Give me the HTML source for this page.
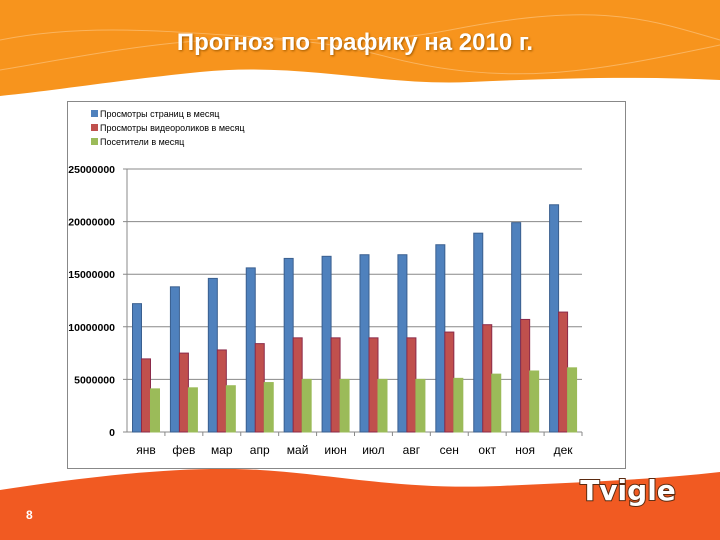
<!DOCTYPE html>
<html><head><meta charset="utf-8">
<style>
body{margin:0;width:720px;height:540px;overflow:hidden;background:#fff;font-family:"Liberation Sans",sans-serif;}
svg{display:block}
</style></head>
<body>
<svg width="720" height="540">
  <path d="M0 0 H720 V80 C640 76 560 78 470 82 C380 86 300 62 200 72 C120 80 60 90 0 96 Z" fill="#f7941d"/>
  <path d="M0 40 C150 10 300 60 450 30 S650 20 720 40 M0 70 C120 50 250 20 380 55 S600 70 720 45" stroke="#fbc27a" stroke-width="1" fill="none" opacity="0.7"/>
  <text x="355" y="50" text-anchor="middle" font-size="24" font-weight="bold" fill="#fff" style="text-shadow:1px 1px 2px #a05a00">Прогноз по трафику на 2010 г.</text>
  <path d="M0 490 C80 478 180 465 260 470 C340 475 400 490 500 486 C580 482 650 480 720 472 V540 H0 Z" fill="#f15a22"/>
  <text x="26" y="519" font-size="12" font-weight="bold" fill="#fff">8</text>
  <text x="628" y="500" text-anchor="middle" font-size="28" font-weight="bold" fill="#fff" stroke="#5a2a10" stroke-width="2" paint-order="stroke" font-family="DejaVu Sans, sans-serif">Tvigle</text>
  <rect x="67.5" y="101.5" width="558" height="367" fill="#fff" stroke="#888" stroke-width="1"/>
  <g id="chart"></g>
</svg>
<script>
const categories=["янв","фев","мар","апр","май","июн","июл","авг","сен","окт","ноя","дек"];
const pageViews=[12200000,13800000,14600000,15600000,16500000,16700000,16850000,16850000,17800000,18900000,19900000,21600000];
const videoViews=[6950000,7500000,7800000,8400000,8950000,8950000,8950000,8950000,9500000,10200000,10700000,11400000];
const visitors=[4100000,4200000,4400000,4700000,5000000,5000000,5000000,5000000,5100000,5500000,5800000,6100000];
const yTicks=[0,5000000,10000000,15000000,20000000,25000000];
const legendLabels=["Просмотры страниц в месяц","Просмотры видеороликов в месяц","Посетители в месяц"];
const NS="http://www.w3.org/2000/svg";
const g=document.getElementById('chart');
const x0=127,x1=582,yB=432,yT=169,yMax=25000000;
const y=v=>yB-(v/yMax)*(yB-yT);
const cw=(x1-x0)/categories.length;
function el(t,a){const e=document.createElementNS(NS,t);for(const k in a)e.setAttribute(k,a[k]);g.appendChild(e);return e;}
yTicks.forEach(v=>{
  const l=el('line',{x1:x0-4,x2:x1,y1:y(v),y2:y(v),stroke:'#888','stroke-width':1});
  
  
  const t=el('text',{x:x0-12,y:y(v)+4,'text-anchor':'end','font-size':10.5,'font-weight':'bold',fill:'#000'});
  t.textContent=v;
  
  
});
const ax=el('line',{x1:x0,x2:x0,y1:yT,y2:yB,stroke:'#888'});


const series=[[pageViews,'#4f81bd','#3a5f8f'],[videoViews,'#c0504d','#8b2a4a'],[visitors,'#9bbb59','#9bbb59']];
categories.forEach((c,i)=>{
  const cx=x0+i*cw;
  const tk=el('line',{x1:cx+cw,x2:cx+cw,y1:yB,y2:yB+4,stroke:'#888'});
  
  
  series.forEach((s,j)=>{
    const v=s[0][i];
    const r=el('rect',{x:cx+5.5+j*9,y:y(v),width:9,height:yB-y(v),fill:s[1],stroke:s[2],'stroke-width':1});
    
    
  });
  const t=el('text',{x:cx+cw/2,y:yB+22,'text-anchor':'middle','font-size':12,fill:'#000'});
  t.textContent=c;
  
  
});
legendLabels.forEach((l,j)=>{
  const r=el('rect',{x:91,y:110+j*14,width:7,height:7,fill:series[j][1]});
  
  
  const t=el('text',{x:100,y:117+j*14,'font-size':9,fill:'#000'});
  t.textContent=l;
  
  
});
</script>
</body></html>
